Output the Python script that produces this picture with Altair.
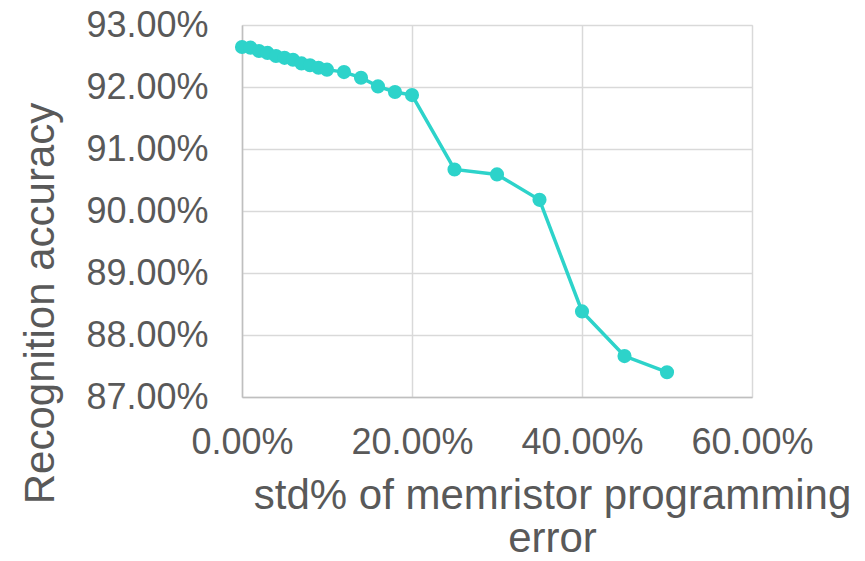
import altair as alt
import pandas as pd

# std% of memristor programming error (fraction) and recognition accuracy (fraction)
std_error = [0.00, 0.01, 0.02, 0.03, 0.04, 0.05, 0.06, 0.07, 0.08, 0.09, 0.10,
             0.12, 0.14, 0.16, 0.18, 0.20, 0.25, 0.30, 0.35, 0.40, 0.45, 0.50]
accuracy = [0.92645, 0.92635, 0.9258, 0.9255, 0.9250, 0.9247, 0.9244, 0.9238,
            0.9235, 0.9231, 0.9228, 0.9224, 0.9215, 0.9201, 0.9192, 0.9187,
            0.9067, 0.9059, 0.9018, 0.8838, 0.8766, 0.8740]

x_ticks = [0.0, 0.2, 0.4, 0.6]
y_ticks = [0.87, 0.88, 0.89, 0.90, 0.91, 0.92, 0.93]

df = pd.DataFrame({"std": std_error, "acc": accuracy})

TEXT = "#595959"
LINE = "#2DD3CA"
FONT = "Liberation Sans"

x_enc = alt.X(
    "std:Q",
    scale=alt.Scale(domain=[0, 0.6], nice=False, zero=False),
    axis=alt.Axis(
        values=x_ticks,
        format=".2%",
        title=["std% of memristor programming", "error"],
        titleFontSize=42,
        titleFontWeight="normal",
        titleColor=TEXT,
        titleFont=FONT,
        titleX=310,
        titleY=111,
        titleAlign="center",
        titleBaseline="alphabetic",
        titleLineHeight=43,
        labelFontSize=36,
        labelColor=TEXT,
        labelFont=FONT,
        labelPadding=28,
        ticks=False,
        domainColor="#BFBFBF",
        domainWidth=1.5,
        gridColor="#D9D9D9",
        gridWidth=1.5,
        labelFlush=False,
        labelOverlap=False,
    ),
)

y_enc = alt.Y(
    "acc:Q",
    scale=alt.Scale(domain=[0.87, 0.93], nice=False, zero=False),
    axis=alt.Axis(
        values=y_ticks,
        format=".2%",
        title="Recognition accuracy",
        titleFontSize=42,
        titleFontWeight="normal",
        titleColor=TEXT,
        titleFont=FONT,
        titleX=-202,
        titleY=278,
        titleAlign="center",
        titleBaseline="middle",
        labelFontSize=36,
        labelColor=TEXT,
        labelFont=FONT,
        labelPadding=34,
        ticks=False,
        domainColor="#BFBFBF",
        domainWidth=1.5,
        gridColor="#D9D9D9",
        gridWidth=1.5,
        labelFlush=False,
        labelOverlap=False,
    ),
)

chart = (
    alt.Chart(df)
    .mark_line(
        color=LINE,
        strokeWidth=3.5,
        point=alt.OverlayMarkDef(filled=True, color=LINE, size=200, opacity=1),
    )
    .encode(x=x_enc, y=y_enc)
    .properties(
        width=510,
        height=372,
        autosize=alt.AutoSizeParams(type="none"),
        padding={"left": 242, "top": 25, "right": 113, "bottom": 164},
    )
    .configure_view(stroke="#D9D9D9", strokeWidth=1.5)
    .configure(background="white")
)

chart.save("out.html", embed_options={"renderer": "svg", "actions": False})
